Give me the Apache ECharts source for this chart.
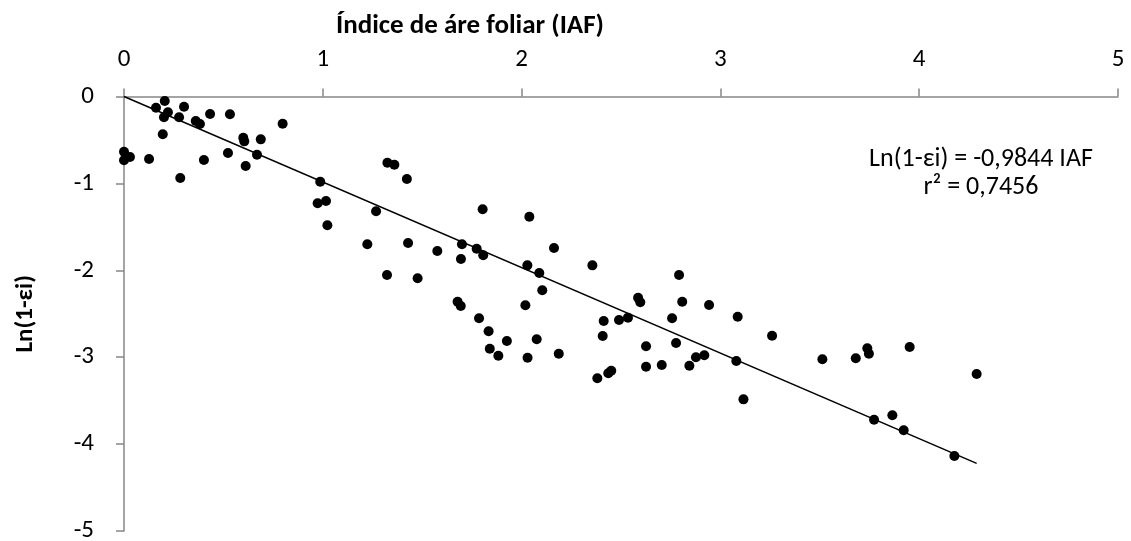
<!DOCTYPE html>
<html>
<head>
<meta charset="utf-8">
<script src="https://cdn.jsdelivr.net/npm/echarts@6/dist/echarts.min.js"></script>
<style>
html,body{margin:0;padding:0;background:#fff;}
#chart{width:1131px;height:541px;}
</style>
</head>
<body>
<div id="chart"></div>
<script>
// IAF (x) values of the observations
var iaf = [0.000,0.000,0.030,0.126,0.161,0.205,0.221,0.201,0.195,0.302,0.277,0.283,0.361,0.382,0.433,0.402,0.533,0.523,0.600,0.605,0.612,0.688,0.669,0.798,0.987,0.974,1.016,1.023,1.268,1.325,1.360,1.423,1.224,1.323,1.429,1.477,1.576,1.700,1.695,1.678,1.694,1.774,1.807,1.804,1.786,1.834,1.840,1.883,1.926,2.039,2.029,2.089,2.104,2.163,2.019,2.076,2.030,2.187,2.356,2.381,2.413,2.408,2.436,2.451,2.490,2.535,2.586,2.597,2.626,2.626,2.705,2.757,2.777,2.792,2.808,2.844,2.877,2.919,2.943,3.080,3.087,3.116,3.260,3.513,3.681,3.739,3.747,3.773,3.865,3.922,3.952,4.177,4.289];
// Ln(1-εi) (y) values of the observations
var lnVals = [-0.635,-0.734,-0.696,-0.719,-0.129,-0.052,-0.182,-0.239,-0.435,-0.117,-0.239,-0.938,-0.282,-0.316,-0.201,-0.731,-0.205,-0.650,-0.474,-0.516,-0.800,-0.493,-0.670,-0.313,-0.980,-1.229,-1.203,-1.482,-1.321,-0.762,-0.785,-0.949,-1.701,-2.054,-1.686,-2.092,-1.778,-1.701,-1.870,-2.361,-2.411,-1.751,-1.827,-1.298,-2.552,-2.702,-2.902,-2.983,-2.813,-1.383,-1.943,-2.031,-2.230,-1.743,-2.403,-2.794,-3.006,-2.960,-1.943,-3.243,-2.583,-2.756,-3.185,-3.155,-2.572,-2.545,-2.315,-2.368,-2.875,-3.109,-3.090,-2.552,-2.837,-2.054,-2.361,-3.098,-3.001,-2.978,-2.399,-3.044,-2.534,-3.485,-2.753,-3.024,-3.013,-2.898,-2.960,-3.719,-3.669,-3.841,-2.883,-4.137,-3.193];
// fitted trend: Ln(1-εi) = slope * IAF, drawn over this IAF range
var slope = -0.9844;
var trendRange = [0, 4.289];
var xTicks = [0,1,2,3,4,5];
var yTicks = [0,-1,-2,-3,-4,-5];
var eqLines = ['Ln(1-\u03B5i) = -0,9844 IAF', 'r\u00B2 = 0,7456'];

var pts = iaf.map(function(v,i){return [v, lnVals[i]];});
var trend = trendRange.map(function(v){return [v, slope*v];});
var FONT = 'Carlito, Lato, "Open Sans", sans-serif';
var axisColor = '#868686';

var chart = echarts.init(document.getElementById('chart'), null, {renderer:'canvas'});
chart.setOption({
  animation:false,
  backgroundColor:'#fff',
  title:{
    text:'\u00CDndice de \u00E1re foliar (IAF)',
    left:336, top:13, padding:0,
    textStyle:{fontFamily:FONT,fontSize:27,fontWeight:'bold',color:'#000'}
  },
  grid:{left:124,right:13,top:96.5,bottom:10,outerBoundsMode:'none'},
  xAxis:{
    type:'value', position:'top', min:xTicks[0], max:xTicks[xTicks.length-1], interval:1,
    axisLine:{onZero:false,lineStyle:{color:axisColor,width:1.5}},
    axisTick:{show:true,inside:false,length:8,lineStyle:{color:axisColor,width:1.5}},
    axisLabel:{margin:24,fontFamily:FONT,fontSize:25,color:'#000'},
    splitLine:{show:false}
  },
  yAxis:{
    type:'value', min:yTicks[yTicks.length-1], max:yTicks[0], interval:1,
    name:'Ln(1-\u03B5i)', nameLocation:'middle', nameGap:86, nameRotate:90,
    nameTextStyle:{fontFamily:FONT,fontSize:25,fontWeight:'bold',color:'#000'},
    axisLine:{onZero:false,lineStyle:{color:axisColor,width:1.5}},
    axisTick:{show:true,inside:false,length:8,lineStyle:{color:axisColor,width:1.5}},
    axisLabel:{margin:30,fontFamily:FONT,fontSize:25,color:'#000'},
    splitLine:{show:false}
  },
  graphic:[{
    type:'text',
    x:981, y:145,
    style:{text:eqLines.join('\n'), textAlign:'center', textVerticalAlign:'top', font:'26px '+FONT, fill:'#000', lineHeight:28}
  }],
  series:[
    {type:'scatter', data:pts, symbol:'circle', symbolSize:10, itemStyle:{color:'#000',opacity:1}, z:3},
    {type:'line', data:trend, symbol:'none', lineStyle:{color:'#000',width:1.5}, z:2}
  ]
});
</script>
</body>
</html>
